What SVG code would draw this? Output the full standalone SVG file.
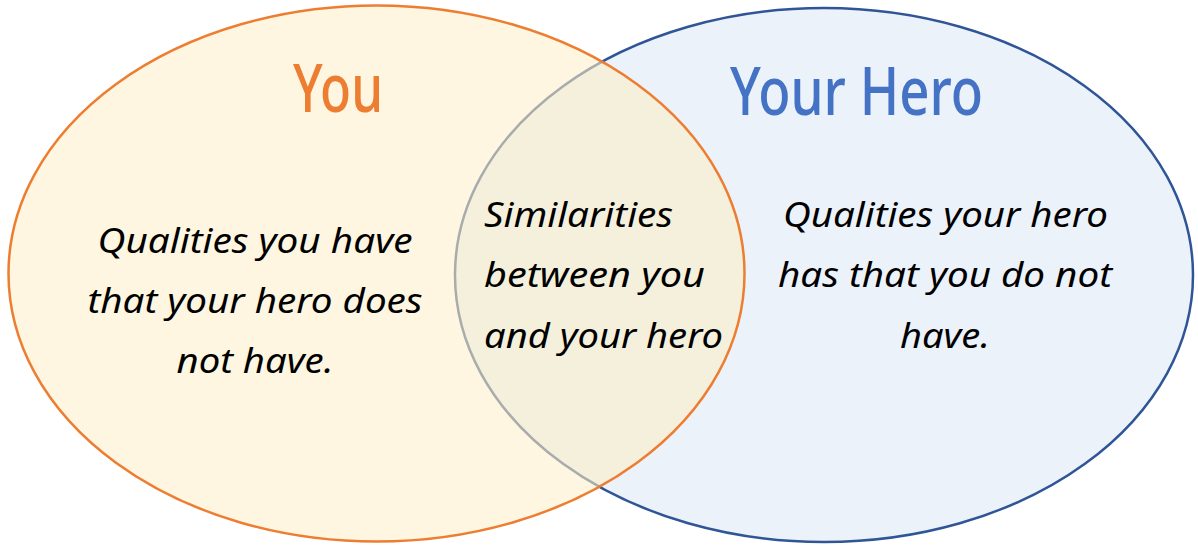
<svg xmlns="http://www.w3.org/2000/svg" width="1198" height="545" viewBox="0 0 1198 545">
<style>
.body{font-family:"Noto Sans","Open Sans",sans-serif;font-style:italic;font-size:35px;fill:#000}
.title{font-family:"Noto Sans","Open Sans",sans-serif;font-weight:500;font-size:68px}
</style>
<defs>
<ellipse id="eL" cx="376.5" cy="273.5" rx="368" ry="268"/>
<ellipse id="eR" cx="824" cy="275" rx="369" ry="267"/>
<clipPath id="clipL"><use href="#eL"/></clipPath>
<clipPath id="clipR"><use href="#eR"/></clipPath>
</defs>
<rect width="1198" height="545" fill="#fff"/>
<g id="hero">
<use href="#eR" fill="#ECF2FA" stroke="#2F5597" stroke-width="2.5"/>
</g>
<g id="you">
<use href="#eL" fill="#FEF6E0"/>
</g>
<g id="overlap">
<use href="#eR" fill="#F5F0DC" clip-path="url(#clipL)"/>
<use href="#eR" fill="none" stroke="#A8ACAD" stroke-width="2.5" clip-path="url(#clipL)"/>
</g>
<use href="#eL" fill="none" stroke="#ED7D31" stroke-width="2.5"/>
<g id="you-labels">
<text class="title" x="293" y="112" fill="#ED7D31" textLength="90" lengthAdjust="spacingAndGlyphs">You</text>
<text class="body" text-anchor="middle" x="255" y="253" textLength="315" lengthAdjust="spacingAndGlyphs">Qualities you have</text>
<text class="body" text-anchor="middle" x="255" y="313" textLength="335" lengthAdjust="spacingAndGlyphs">that your hero does</text>
<text class="body" text-anchor="middle" x="255" y="373" textLength="157" lengthAdjust="spacingAndGlyphs">not have.</text>
</g>
<g id="overlap-labels">
<text class="body" x="484" y="227" textLength="189" lengthAdjust="spacingAndGlyphs">Similarities</text>
<text class="body" x="484" y="287" textLength="221" lengthAdjust="spacingAndGlyphs">between you</text>
<text class="body" x="484" y="348" textLength="239" lengthAdjust="spacingAndGlyphs">and your hero</text>
</g>
<g id="hero-labels">
<text class="title" x="730" y="115" fill="#4472C4" textLength="253" lengthAdjust="spacingAndGlyphs">Your Hero</text>
<text class="body" text-anchor="middle" x="945.5" y="227" textLength="325" lengthAdjust="spacingAndGlyphs">Qualities your hero</text>
<text class="body" text-anchor="middle" x="945" y="287" textLength="334" lengthAdjust="spacingAndGlyphs">has that you do not</text>
<text class="body" text-anchor="middle" x="945" y="348" textLength="90" lengthAdjust="spacingAndGlyphs">have.</text>
</g>
</svg>
